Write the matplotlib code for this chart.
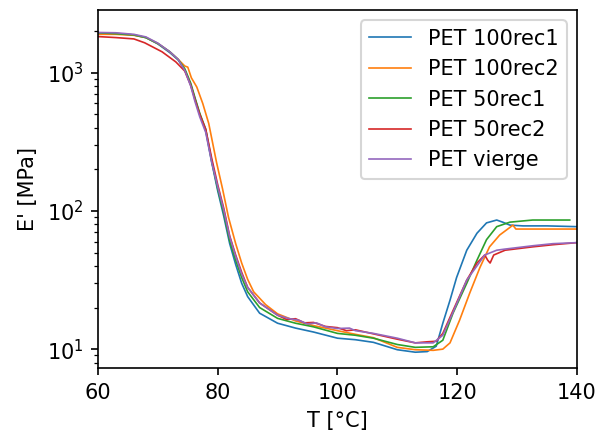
import matplotlib.pyplot as plt
import numpy as np

# temperature points (degC) and storage modulus E' (MPa)
T_rec1 = [60, 63, 66, 68, 70, 72, 73.4, 74.5, 75.5, 76.2, 77, 78, 79, 80, 81, 82, 83, 84, 85, 87,
          90, 93, 96, 100, 103, 106, 110, 113, 115, 116.5, 117.6, 118.8, 119.9, 121.6, 123.3, 124.9,
          126.6, 127.6, 128.8, 131, 135, 140]
E_rec1 = [1950, 1930, 1880, 1800, 1620, 1400, 1240, 1050, 820, 650, 500, 380, 225, 140, 92, 58, 41,
          30, 24, 18.2, 15.4, 14.2, 13.3, 12.0, 11.7, 11.2, 9.9, 9.5, 9.6, 10.5, 15.4, 22.6, 33, 52, 69,
          82, 86, 83, 79, 78, 78, 77]

T_100rec2 = [60, 63, 66, 68, 70, 72, 73.4, 74.5, 75.0, 75.6, 76.5, 77.5, 78.5, 79.8, 80.8, 81.8, 83,
             84, 85, 86, 88, 90, 93, 96, 100, 103, 106, 110, 113, 116, 117.6, 118.8, 120.4, 122.1,
             123.8, 125.4, 127.1, 128.8, 129.3, 129.8, 132, 136, 140]
E_100rec2 = [1900, 1900, 1870, 1800, 1630, 1420, 1250, 1120, 1100, 920, 790, 600, 430, 225, 145, 90,
             58, 42, 32, 26, 21, 18, 16, 14.8, 13.6, 12.8, 12.1, 10.3, 9.9, 9.8, 10.0, 11.1, 16.2,
             25.5, 39, 55, 67, 76, 79, 74, 74, 74, 74]

T_50rec1 = [60, 63, 66, 68, 70, 72, 73.4, 74.5, 75.5, 76.2, 77, 78, 79, 80, 81, 82, 83, 84, 85, 87,
            90, 93, 96, 100, 103, 106, 110, 113, 116, 117.6, 119.3, 121.6, 123.3, 124.9, 126.6,
            128.8, 132.6, 138.8]
E_50rec1 = [1950, 1920, 1880, 1800, 1630, 1420, 1250, 1070, 840, 660, 510, 390, 230, 145, 97, 61,
            44, 33, 26, 20, 16.7, 15.4, 14.5, 13.0, 12.6, 12.0, 10.8, 10.3, 10.4, 11.6, 18.2, 30, 44,
            62, 77, 83, 86, 86]

T_50rec2 = [60, 63, 66, 67.8, 70.7, 73, 74.5, 75.5, 76.2, 77, 78, 79, 80, 81, 82, 83, 84, 85, 87,
            90, 91.5, 93, 94.5, 96, 98, 100, 101.5, 103, 106, 110, 113, 115, 116.5, 117.6, 119.3,
            121.6, 123.3, 124.6, 125.1, 125.5, 126.1, 128, 132.6, 136, 140]
E_50rec2 = [1830, 1800, 1760, 1650, 1420, 1200, 1030, 810, 640, 500, 390, 240, 155, 105, 66, 48,
            36, 28, 21.6, 17.6, 16.4, 16.6, 15.5, 15.6, 14.6, 14.3, 13.6, 13.8, 12.9, 11.8, 11.1,
            11.3, 11.4, 13, 19, 31.6, 42, 48, 44, 42, 48, 52, 55, 57, 59]

T_vierge = [60, 63, 66, 68, 70, 72, 73.4, 74.5, 75.5, 76.2, 77, 78, 79, 80, 81, 82, 83, 84, 85, 87,
            90, 92, 93.5, 95, 96.5, 98, 100, 102, 103, 106, 110, 113, 116, 117.6, 119.3, 121.6,
            124.6, 126.6, 128, 132.6, 136, 140]
E_vierge = [1960, 1950, 1900, 1820, 1640, 1420, 1250, 1040, 800, 620, 480, 370, 225, 150, 102, 65,
            47, 35, 28, 21.6, 17.6, 16.6, 16.2, 15.2, 15.5, 14.5, 14.1, 14.2, 13.6, 13.0, 12.0,
            11.1, 11.1, 12.6, 18.5, 31.6, 48, 52, 53, 56, 58, 59]

labels = ['PET 100rec1', 'PET 100rec2', 'PET 50rec1', 'PET 50rec2', 'PET vierge']
series = [(T_rec1, E_rec1), (T_100rec2, E_100rec2), (T_50rec1, E_50rec1),
          (T_50rec2, E_50rec2), (T_vierge, E_vierge)]

dpi = 150
fig = plt.figure(figsize=(596 / dpi, 435 / dpi), dpi=dpi)
ax = fig.add_axes([0.1644, 0.154, 0.8036, 0.823])
for (t, e), lab in zip(series, labels):
    ax.plot(t, e, label=lab, linewidth=0.8)

ax.set_yscale('log')
ax.set_xlim(60, 140)
ax.set_ylim(7.3, 2850)
ax.set_xlabel('T [°C]')
ax.set_ylabel("E' [MPa]")
ax.legend(loc='upper right')

plt.savefig('out.png', dpi=dpi)
